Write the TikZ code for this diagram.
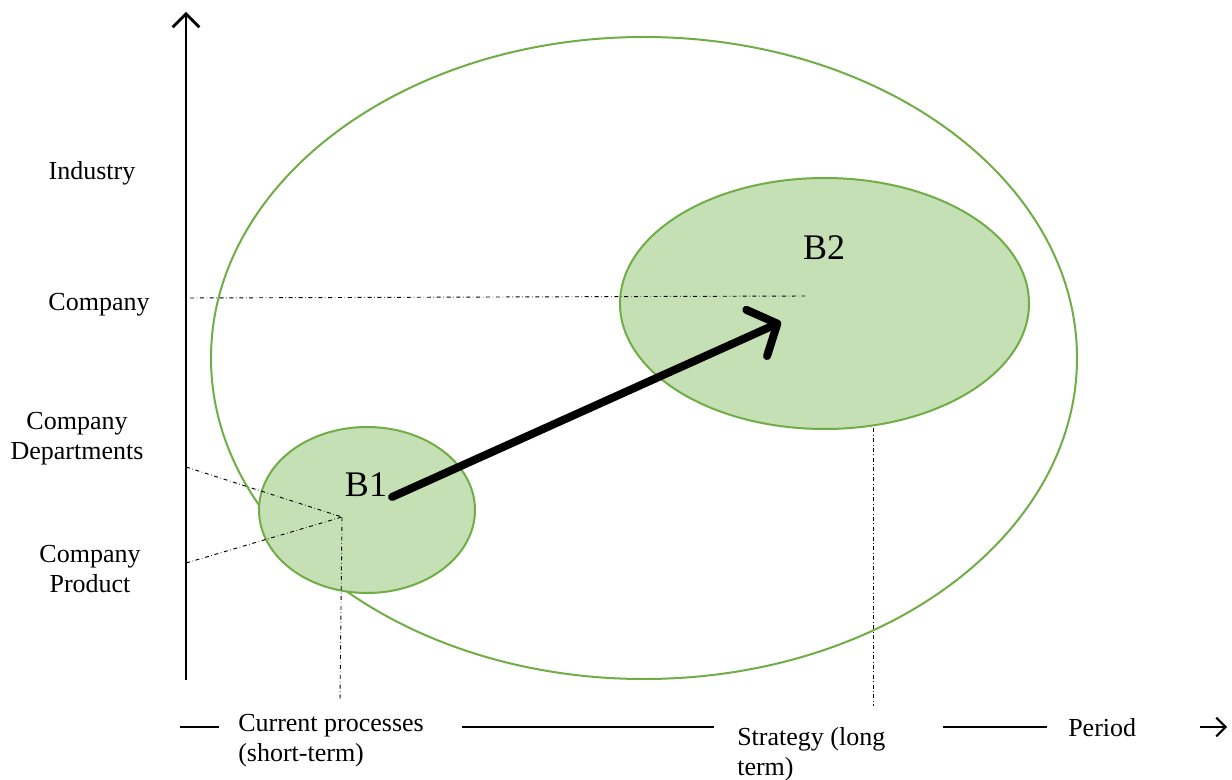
\documentclass[tikz,border=0pt]{standalone}
\usepackage{fontspec}
\setmainfont{Liberation Serif}
\usetikzlibrary{arrows.meta}
\definecolor{gline}{HTML}{70AD47}
\definecolor{gfill}{HTML}{C5E0B4}
\begin{document}
\begin{tikzpicture}[x=0.75pt,y=-0.75pt,
  lbl/.style={font=\fontsize{19.5}{22.5}\selectfont, inner sep=0pt, align=center},
  lbll/.style={font=\fontsize{19.5}{22.5}\selectfont, inner sep=0pt, align=left, anchor=west},
  big/.style={font=\fontsize{27}{30}\selectfont, inner sep=0pt},
  gell/.style={draw=gline, line width=1.5pt, fill=gfill},
  dd/.style={dash dot, line width=0.7pt},
  ax/.style={line width=1.5pt}]
\useasboundingbox (0,0) rectangle (1232,780);
% outer ellipse
\draw[draw=gline, line width=1.5pt] (644,358) ellipse [x radius=433, y radius=321];
% small ellipses
\draw[gell] (367,510) ellipse [x radius=108, y radius=83];
\draw[gell] (824.5,303.5) ellipse [x radius=204.5, y radius=125.5];
% coordinates
\coordinate (yb) at (186,680);
\coordinate (yt) at (186,12);
\coordinate (p1) at (342,517);
\coordinate (dep) at (186,467);
\coordinate (prod) at (186,563);
\coordinate (p1b) at (340,700);
\coordinate (comp) at (190,298);
\coordinate (p2) at (805,296);
\coordinate (p2t) at (873,428);
\coordinate (p2b) at (873,706);
\coordinate (a1) at (392,497);
\coordinate (a2) at (781,322);
% dash-dot lines
\draw[dd] (comp) -- (p2);
\draw[dd] (dep) -- (p1);
\draw[dd] (prod) -- (p1);
\draw[dd] (p1) -- (p1b);
\draw[dd] (p2t) -- (p2b);
% vertical axis
\draw[line width=2pt, -{Straight Barb[length=10pt,width=20pt,line width=2pt]}] (yb) -- (yt);
% thick arrow
\draw[line width=6pt, line cap=round, -{Straight Barb[length=17pt,width=38pt,line width=6pt,round]}] (a1) -- (a2);
% labels
\node[lbl] (ind) at (92,173) {Industry};
\node[lbl] (cmp) at (99,305) {Company};
\node[lbl] (cdp) at (77,439) {Company\\Departments};
\node[lbl] (cpr) at (90,569) {Company\\Product};
\node[big] (b1) at (366,485) {B1};
\node[big] (b2) at (824,248) {B2};
\node[lbll] (cur) at (238,741) {Current processes\\(short-term)};
\node[lbll] (str) at (737,754) {Strategy (long\\term)};
\node[lbll] (per) at (1068,728) {Period};
% bottom axis segments
\coordinate (s1a) at (180,727); \coordinate (s1b) at (219,727);
\coordinate (s2a) at (462,727); \coordinate (s2b) at (714,727);
\coordinate (s3a) at (943,727); \coordinate (s3b) at (1047,727);
\coordinate (s4a) at (1200,727); \coordinate (s4b) at (1227,727);
\draw[ax] (s1a) -- (s1b);
\draw[ax] (s2a) -- (s2b);
\draw[ax] (s3a) -- (s3b);
\draw[ax, -{Straight Barb[length=7pt,width=14pt,line width=1.5pt]}] (s4a) -- (s4b);
\end{tikzpicture}
\end{document}
